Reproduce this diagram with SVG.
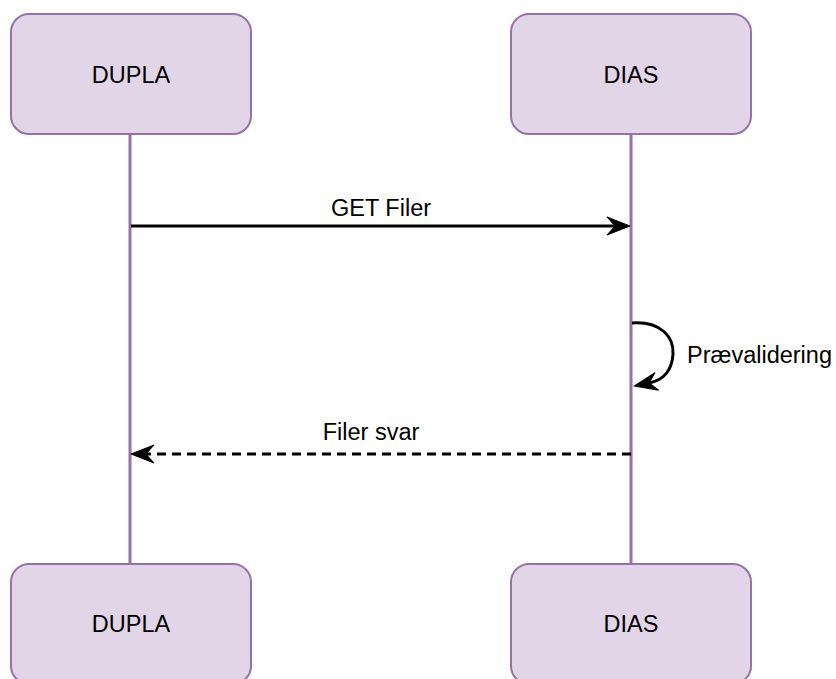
<svg xmlns="http://www.w3.org/2000/svg" width="836" height="679" viewBox="0 0 836 679">
<defs>
<style>
.box{fill:#e1d5e7;stroke:#9673a6;stroke-width:2}
.life{stroke:#9673a6;stroke-width:3;fill:none}
.lbl{font-family:"Liberation Sans",Arial,sans-serif;font-size:23.5px;fill:#000}
.msg{stroke:#000;stroke-width:3;fill:none}
.dash{stroke-dasharray:9 6}
</style>
<marker id="arr" markerUnits="userSpaceOnUse" viewBox="-25 -11 27 22" refX="-15" refY="0" markerWidth="27" markerHeight="22" orient="auto">
<path d="M0,0 L-23,-9 L-15,0 L-23,9 Z" fill="#000" stroke="#000" stroke-width="1" stroke-linejoin="miter"/>
</marker>
</defs>
<rect width="836" height="679" fill="#fff"/>
<g id="lifelines">
<line class="life" x1="130" y1="134" x2="130" y2="564"/>
<line class="life" x1="631" y1="134" x2="631" y2="564"/>
</g>
<g id="dupla-top">
<rect class="box" x="11" y="14" width="240" height="120" rx="18"/>
<text class="lbl" x="131" y="82.5" text-anchor="middle">DUPLA</text>
</g>
<g id="dias-top">
<rect class="box" x="511" y="14" width="240" height="120" rx="18"/>
<text class="lbl" x="631" y="82.5" text-anchor="middle">DIAS</text>
</g>
<g id="dupla-bottom">
<rect class="box" x="11" y="564" width="240" height="120" rx="18"/>
<text class="lbl" x="131" y="632" text-anchor="middle">DUPLA</text>
</g>
<g id="dias-bottom">
<rect class="box" x="511" y="564" width="240" height="120" rx="18"/>
<text class="lbl" x="631" y="632" text-anchor="middle">DIAS</text>
</g>
<g id="connectors">
<line class="msg" x1="131" y1="226" x2="615" y2="226" marker-end="url(#arr)"/>
<text class="lbl" x="381" y="216" text-anchor="middle">GET Filer</text>
<path class="msg" d="M632,323 C662,321 674,338 673,354 C672,370 664,380 649,383" marker-end="url(#arr)"/>
<text class="lbl" x="687" y="363">Prævalidering</text>
<line class="msg dash" x1="631" y1="454" x2="146" y2="454" marker-end="url(#arr)"/>
<text class="lbl" x="371" y="440" text-anchor="middle">Filer svar</text>
</g>
</svg>
